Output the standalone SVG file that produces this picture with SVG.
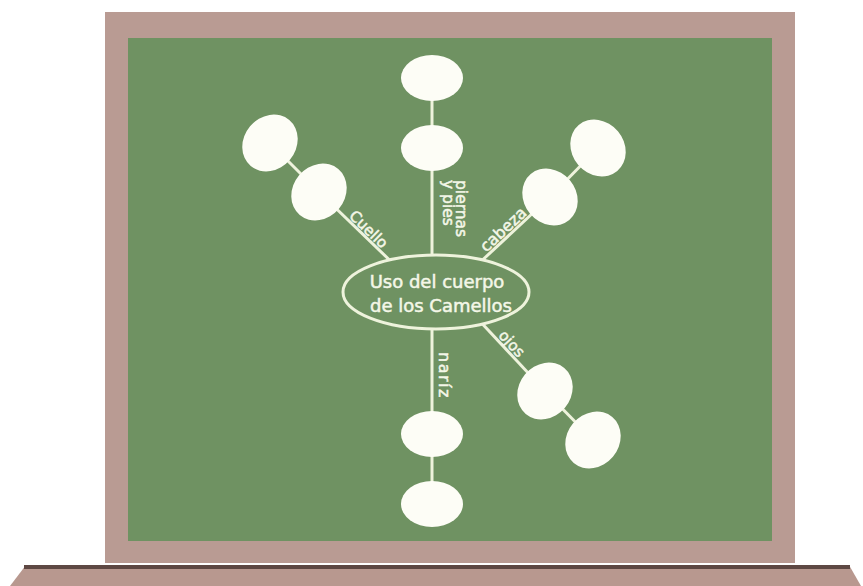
<svg xmlns="http://www.w3.org/2000/svg" width="863" height="586" viewBox="0 0 863 586">
<style>
.ln{stroke:#eef3dc;stroke-width:3;fill:none}
.nd{fill:#fdfdf6}
.lb{font-family:"DejaVu Sans",sans-serif;font-size:15px;fill:#f4f7e8;stroke:#f4f7e8;stroke-width:0.5}
.ct{font-family:"DejaVu Sans",sans-serif;font-size:18px;fill:#f4f7e8;stroke:#f4f7e8;stroke-width:0.5;text-anchor:middle}
</style>
<rect x="0" y="0" width="863" height="586" fill="#ffffff"/>
<g id="board">
<rect x="105" y="12" width="690" height="551" fill="#b99b93"/>
<rect x="128" y="38" width="644" height="503" fill="#6f9262"/>
<polygon points="26,565 849,565 861,586 10,586" fill="#b8988f"/>
<rect x="24" y="565" width="826" height="4" fill="#5e4843"/>
</g>
<g id="connectors">
<line class="ln" x1="432" y1="255" x2="432" y2="148"/>
<line class="ln" x1="432" y1="148" x2="432" y2="78"/>
<line class="ln" x1="432" y1="329" x2="432" y2="434"/>
<line class="ln" x1="432" y1="434" x2="432" y2="504"/>
<line class="ln" x1="389.5" y1="260" x2="319" y2="192"/>
<line class="ln" x1="319" y1="192" x2="270" y2="143"/>
<line class="ln" x1="482.5" y1="260" x2="550" y2="197"/>
<line class="ln" x1="550" y1="197" x2="598" y2="148"/>
<line class="ln" x1="482.5" y1="324" x2="545" y2="391"/>
<line class="ln" x1="545" y1="391" x2="593" y2="440"/>
</g>
<g id="labels">
<text class="lb" text-anchor="middle" transform="translate(365,233) rotate(44)">Cuello</text>
<text class="lb" style="font-size:16px" text-anchor="middle" transform="translate(507,233.5) rotate(-43)">cabeza</text>
<text class="lb" text-anchor="middle" transform="translate(508,347) rotate(47)">ojos</text>
<text class="lb" style="font-size:15.5px" transform="translate(456,180) rotate(90)">piernas</text>
<text class="lb" style="font-size:15.5px" transform="translate(443,180) rotate(90)">y pies</text>
<text class="lb" style="font-size:16px;letter-spacing:1.5px" transform="translate(439,352) rotate(90)">naríz</text>
</g>
<g id="center">
<ellipse cx="436" cy="292" rx="93" ry="37" fill="none" stroke="#eef3dc" stroke-width="3"/>
<text class="ct" x="437" y="288">Uso del cuerpo</text>
<text class="ct" x="441" y="312">de los Camellos</text>
</g>
<g id="piernas1"><ellipse class="nd" cx="432" cy="148" rx="31" ry="23"/></g>
<g id="piernas2"><ellipse class="nd" cx="432" cy="78" rx="31" ry="23"/></g>
<g id="cuello1"><ellipse class="nd" cx="319" cy="192" rx="30" ry="26" transform="rotate(-50 319 192)"/></g>
<g id="cuello2"><ellipse class="nd" cx="270" cy="143" rx="30" ry="26" transform="rotate(-50 270 143)"/></g>
<g id="cabeza1"><ellipse class="nd" cx="550" cy="197" rx="30" ry="26" transform="rotate(50 550 197)"/></g>
<g id="cabeza2"><ellipse class="nd" cx="598" cy="148" rx="30" ry="26" transform="rotate(50 598 148)"/></g>
<g id="ojos1"><ellipse class="nd" cx="545" cy="391" rx="30" ry="26" transform="rotate(-50 545 391)"/></g>
<g id="ojos2"><ellipse class="nd" cx="593" cy="440" rx="30" ry="26" transform="rotate(-50 593 440)"/></g>
<g id="nariz1"><ellipse class="nd" cx="432" cy="434" rx="31" ry="23"/></g>
<g id="nariz2"><ellipse class="nd" cx="432" cy="504" rx="31" ry="23"/></g>
</svg>
